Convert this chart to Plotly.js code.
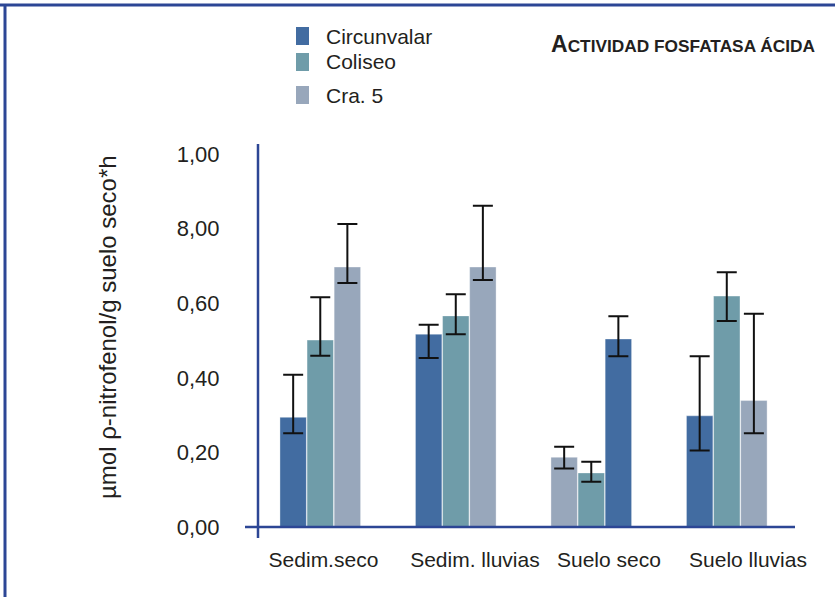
<!DOCTYPE html>
<html><head><meta charset="utf-8">
<script src="https://cdn.plot.ly/plotly-3.0.1.min.js"></script>
<style>body{margin:0;background:#fff}#c{width:835px;height:597px}</style>
</head><body><div id="c"></div>
<script>
var categories = ['Sedim.seco', 'Sedim. lluvias', 'Suelo seco', 'Suelo lluvias'];
var seriesNames = ['Circunvalar', 'Coliseo', 'Cra. 5'];
var circunvalar = [0.294, 0.517, 0.504, 0.298];
var circunvalarHi = [0.408, 0.542, 0.565, 0.458];
var circunvalarLo = [0.251, 0.453, 0.458, 0.205];
var coliseo = [0.501, 0.566, 0.145, 0.619];
var coliseoHi = [0.616, 0.624, 0.175, 0.683];
var coliseoLo = [0.459, 0.517, 0.121, 0.552];
var cra5 = [0.697, 0.697, 0.187, 0.339];
var cra5Hi = [0.812, 0.861, 0.215, 0.572];
var cra5Lo = [0.654, 0.662, 0.157, 0.251];
// slot of each bar within its group (0 = left, 1 = middle, 2 = right)
var circunvalarSlot = [0, 0, 2, 0];
var coliseoSlot = [1, 1, 1, 1];
var cra5Slot = [2, 2, 0, 2];
var yTickVals = [0, 0.2, 0.4, 0.6, 0.8, 1.0];
var yTickText = ['0,00', '0,20', '0,40', '0,60', '8,00', '1,00'];
// labels sit slightly right of the group centres
var labelShift = [0.026, 0.144, 0.133, 0.159];
var colors = ['#426ca1', '#6f9ca9', '#98a7bb'];

var catIdx = categories.map(function(c, i){ return i; });
var xTickVals = catIdx.map(function(i){ return i + labelShift[i]; });

var BW = 0.195;
function offs(slots){ return slots.map(function(s){ return -0.295 + s*0.2; }); }
function mk(name, vals, hi, lo, slots, color){
  return {
    type: 'bar', name: name, x: catIdx, y: vals, customdata: categories,
    width: BW, offset: offs(slots),
    marker: {color: color, line: {color: 'rgba(255,255,255,0.35)', width: 1}},
    error_y: {type: 'data', symmetric: false,
      array: vals.map(function(v,i){ return hi[i]-v; }),
      arrayminus: vals.map(function(v,i){ return v-lo[i]; }),
      color: '#111', thickness: 2, width: 10},
    showlegend: false, hoverinfo: 'none'
  };
}
var data = [
  mk(seriesNames[0], circunvalar, circunvalarHi, circunvalarLo, circunvalarSlot, colors[0]),
  mk(seriesNames[1], coliseo, coliseoHi, coliseoLo, coliseoSlot, colors[1]),
  mk(seriesNames[2], cra5, cra5Hi, cra5Lo, cra5Slot, colors[2])
];

var axisCol = '#2c4695';
var txt = '#231f20';
var shapes = [
  // frame
  {type:'line', xref:'paper', yref:'paper', x0:-245/550, x1:1+40/550, y0:1+(144-5)/394, y1:1+(144-5)/394, line:{color:axisCol, width:3}},
  {type:'line', xref:'paper', yref:'paper', x0:-(245-5)/550, x1:-(245-5)/550, y0:1+(144-5)/394, y1:-59/394, line:{color:axisCol, width:3}},
  // axes
  {type:'line', xref:'paper', yref:'y', x0:0, x1:1, y0:0, y1:0, line:{color:axisCol, width:2.5}},
  {type:'line', xref:'paper', yref:'paper', x0:13/550, x1:13/550, y0:0, y1:1, line:{color:axisCol, width:2.5}}
];
var legY = [36, 62, 95];
var annotations = [];
seriesNames.forEach(function(n, i){
  shapes.push({type:'rect', xref:'paper', yref:'paper',
    x0:(296-245)/550, x1:(309-245)/550,
    y0:(538-legY[i]+9)/394, y1:(538-legY[i]-9)/394,
    fillcolor: colors[i], line:{width:0}});
  annotations.push({xref:'paper', yref:'paper', x:(324-245)/550, y:(538-legY[i])/394,
    xanchor:'left', yanchor:'middle', text:n, showarrow:false,
    font:{family:'Liberation Sans, Arial, sans-serif', size:21, color:txt}});
});
annotations.push({xref:'paper', yref:'paper', x:(818-245)/550, y:(538-44)/394,
  xanchor:'right', yanchor:'middle', showarrow:false,
  text:'<b>A<span style="font-size:17.3px">CTIVIDAD FOSFATASA ÁCIDA</span></b>',
  font:{family:'Liberation Sans, Arial, sans-serif', size:23, color:txt}});
annotations.push({xref:'paper', yref:'paper', x:(107-245)/550, y:(538-327)/394,
  xanchor:'center', yanchor:'middle', textangle:-90, showarrow:false,
  text:'µmol ρ-nitrofenol/g suelo seco*h',
  font:{family:'Liberation Sans, Arial, sans-serif', size:24, color:txt}});

var layout = {
  width: 835, height: 597,
  margin: {l:245, r:40, t:144, b:59, pad:0},
  paper_bgcolor: '#fff', plot_bgcolor: 'rgba(0,0,0,0)',
  barmode: 'overlay',
  xaxis: {type:'linear', range:[-0.553, 3.506], showgrid:false, zeroline:false, showline:false,
    tickmode:'array', tickvals:xTickVals, ticktext:categories, tickangle:0,
    ticks:'outside', ticklen:3, tickcolor:'rgba(0,0,0,0)',
    tickfont:{family:'Liberation Sans, Arial, sans-serif', size:21, color:txt}},
  yaxis: {range:[-0.0295, 1.0268], tickvals:yTickVals, ticktext:yTickText,
    showgrid:false, zeroline:false, showline:false,
    ticks:'outside', ticklen:20, tickcolor:'rgba(0,0,0,0)',
    tickfont:{family:'Liberation Sans, Arial, sans-serif', size:22, color:txt}},
  shapes: shapes, annotations: annotations, showlegend:false
};
Plotly.newPlot('c', data, layout, {displayModeBar:false, staticPlot:true});
</script></body></html>
